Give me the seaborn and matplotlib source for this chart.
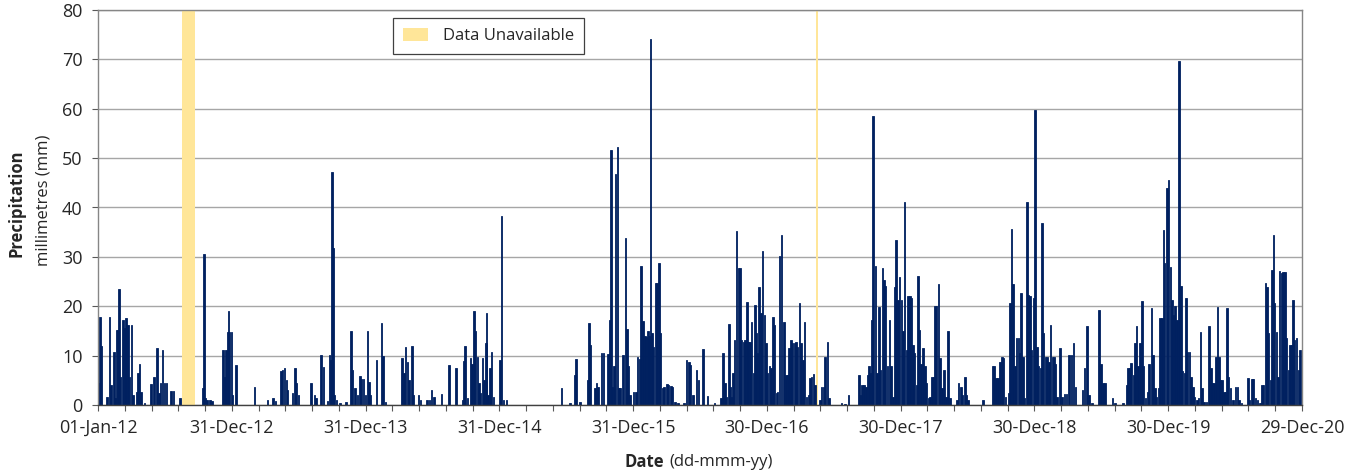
import numpy as np
import pandas as pd
import matplotlib
matplotlib.use("Agg")
import matplotlib.pyplot as plt
import seaborn as sns
from matplotlib.patches import Patch
from matplotlib.ticker import MultipleLocator

# ---------------- data (days since 01-Jan-12, daily precipitation in mm) ----------------
day = [3, 5, 9, 24, 32, 36, 43, 46, 51, 55, 58, 62, 68, 73, 77, 82, 86, 92, 96, 105, 109, 113, 118, 127,
       144, 153, 161, 166, 171, 176, 182, 187, 199, 206, 223,
       286, 289, 293, 298, 305, 311, 341, 346, 349, 354, 356, 359, 364, 367, 376,
       427, 462, 478, 484, 500, 504, 509, 514, 517, 531, 537, 542, 547, 581, 591, 595, 608, 615, 626,
       631, 635, 638, 641, 644, 651, 660, 677, 691, 695, 701, 708, 715, 719, 724, 730, 735, 740, 744,
       760, 774, 778, 784,
       830, 835, 839, 844, 849, 856, 860, 875, 880, 897, 904, 910, 917, 937, 957, 977, 995, 999, 1001,
       1008, 1016, 1021, 1026, 1030, 1035, 1040, 1043, 1049, 1053, 1058, 1060, 1064, 1069, 1074, 1079,
       1097, 1101, 1106, 1115,
       1265, 1288, 1301, 1304, 1315, 1336, 1340, 1344, 1356, 1360, 1364, 1374, 1379, 1392, 1395, 1399,
       1403, 1408, 1412, 1417, 1421, 1424, 1432, 1439, 1443, 1448, 1452, 1461, 1468, 1472, 1477, 1482,
       1487, 1492, 1496, 1500, 1503, 1507, 1512, 1516, 1521, 1525, 1530, 1534, 1540, 1544, 1552, 1557,
       1563, 1567, 1574, 1582, 1599, 1606, 1612, 1616, 1623, 1633, 1638,
       1650, 1663, 1682, 1700, 1705, 1710, 1715, 1721, 1724, 1729, 1733, 1737, 1742, 1747, 1752, 1756,
       1761, 1765, 1770, 1774, 1779, 1783, 1788, 1792, 1796, 1800, 1804, 1809, 1813, 1818, 1823, 1827,
       1832, 1836, 1842, 1846, 1851, 1854, 1859, 1865, 1872, 1877, 1882, 1886, 1891, 1895, 1900, 1904,
       1909, 1914, 1918, 1923, 1928, 1933, 1938, 1943, 1947, 1952, 1956, 1970, 1974, 1979, 1984, 1990,
       1995, 2029, 2038, 2048,
       2076, 2081, 2085, 2090, 2095, 2099, 2104, 2108, 2112, 2115, 2121, 2126, 2131, 2135, 2140, 2145,
       2149, 2154, 2159, 2164, 2169, 2175, 2178, 2183, 2187, 2192, 2196, 2201, 2206, 2210, 2215, 2219,
       2224, 2228, 2233, 2237, 2242, 2246, 2251, 2256, 2260, 2266, 2270, 2275, 2279, 2283, 2288, 2293,
       2297, 2303, 2308, 2314, 2319, 2325, 2343, 2348, 2354, 2357, 2365, 2370, 2374, 2414,
       2440, 2445, 2450, 2456, 2461, 2466, 2471, 2476, 2484, 2488, 2493, 2497, 2502, 2506, 2511, 2516,
       2519, 2524, 2528, 2534, 2538, 2543, 2547, 2552, 2557, 2562, 2566, 2571, 2576, 2580, 2585, 2589,
       2594, 2599, 2604, 2608, 2613, 2617, 2625, 2630, 2637, 2643, 2650, 2656, 2661, 2667, 2686, 2692,
       2698, 2704, 2712, 2731, 2737, 2742, 2747, 2768, 2775, 2797,
       2807, 2810, 2815, 2819, 2825, 2829, 2833, 2838, 2843, 2848, 2852, 2858, 2863, 2868,
       2875, 2879, 2884, 2888, 2893, 2898, 2903, 2907, 2910, 2916, 2921, 2926, 2930, 2935, 2939, 2944,
       2949, 2955, 2959, 2964, 2969, 2973, 2978, 2982, 2987, 2991, 2998, 3002, 3008, 3012, 3018, 3025,
       3031, 3036, 3040, 3045, 3050, 3054, 3059, 3062, 3067, 3072, 3076, 3080, 3085, 3090, 3097, 3103,
       3109, 3113, 3120, 3137, 3141, 3148, 3152, 3158, 3163, 3170, 3176, 3180, 3185, 3190, 3194, 3199,
       3203, 3207, 3210, 3215, 3220, 3224, 3229, 3233, 3238, 3242, 3248, 3252, 3257, 3261, 3265, 3270,
       3275, 3280]

rain_mm = [4.4, 17.9, 12.0, 1.7, 17.8, 4.0, 10.8, 1.5, 15.2, 15.2, 23.5, 5.7, 17.2, 15.5, 17.7, 16.2, 5.7, 16.2, 2.0, 2.7, 6.4, 8.4, 2.7, 0.5,
           4.3, 5.7, 11.5, 2.4, 4.4, 11.1, 4.4, 4.5, 2.9, 2.9, 1.5,
           3.4, 30.6, 1.4, 1.0, 1.0, 0.8, 11.1, 5.7, 11.1, 14.7, 19.1, 14.7, 14.7, 2.0, 8.1,
           3.7, 1.0, 1.4, 0.8, 6.8, 7.1, 7.4, 5.0, 3.0, 2.4, 7.4, 4.4, 2.0, 4.5, 2.0, 1.4, 10.1, 7.6, 0.8,
           10.1, 9.1, 47.1, 31.8, 2.0, 1.0, 0.5, 0.6, 14.9, 7.1, 3.4, 2.0, 5.9, 5.3, 5.3, 2.0, 14.9, 4.7, 2.0,
           9.1, 16.7, 9.9, 0.7,
           9.6, 6.4, 11.8, 8.8, 5.0, 12.0, 2.0, 2.0, 1.0, 1.1, 1.0, 3.0, 1.7, 2.2, 8.2, 7.4, 1.0, 9.0, 12.0,
           1.4, 9.5, 8.4, 19.1, 14.9, 9.8, 4.4, 2.4, 9.5, 5.0, 12.5, 18.6, 2.0, 7.4, 10.8, 1.7,
           9.1, 38.3, 1.0, 1.0,
           3.4, 0.5, 6.1, 9.3, 0.7, 5.0, 16.6, 12.2, 3.4, 4.5, 3.7, 10.5, 10.5, 10.3, 17.2, 51.6,
           3.7, 7.8, 46.8, 52.2, 3.4, 3.4, 10.1, 33.9, 15.3, 7.8, 2.0, 2.7, 2.7, 9.8, 9.3, 28.2,
           17.1, 13.9, 13.7, 14.9, 13.9, 74.1, 14.5, 11.8, 24.8, 24.8, 28.7, 14.5, 3.4, 3.7, 4.3, 4.0,
           3.9, 3.7, 0.7, 0.4, 0.4, 9.1, 8.8, 8.1, 2.0, 7.0, 5.0,
           11.3, 1.8, 0.5, 1.4, 10.5, 4.4, 1.7, 16.4, 3.7, 1.7, 6.4, 13.2, 35.3, 27.7, 27.7, 13.2,
           12.8, 13.2, 20.8, 12.8, 12.8, 16.9, 6.4, 20.3, 14.5, 10.5, 23.9, 18.6, 31.2, 18.2, 12.5, 6.4,
           7.8, 7.4, 17.8, 16.2, 2.4, 2.7, 30.1, 34.5, 16.9, 6.1, 6.1, 11.5, 13.2, 12.5, 12.5, 12.8,
           11.8, 20.6, 12.5, 9.1, 16.9, 1.7, 2.0, 5.4, 5.7, 6.3, 4.0, 1.0, 3.7, 3.7, 9.8, 12.8,
           1.4, 0.4, 0.2, 2.0,
           6.1, 2.0, 4.0, 4.0, 3.7, 6.1, 7.8, 6.4, 17.2, 58.6, 28.2, 6.4, 19.8, 7.1, 27.8, 25.3,
           24.1, 7.8, 17.2, 7.8, 1.7, 24.0, 33.4, 21.3, 25.9, 21.3, 14.9, 41.1, 11.1, 22.0, 22.0, 21.6,
           12.2, 10.5, 4.0, 26.1, 15.2, 8.4, 11.6, 7.8, 4.4, 1.4, 1.7, 5.7, 5.7, 20.1, 20.1, 24.5,
           9.5, 3.4, 7.0, 1.7, 15.0, 1.4, 1.0, 4.5, 3.7, 2.0, 5.7, 2.0, 1.0, 1.0,
           7.9, 7.9, 5.4, 5.4, 8.8, 9.7, 9.5, 1.7, 2.4, 20.7, 35.6, 24.5, 7.8, 13.5, 13.5, 10.5,
           22.6, 9.8, 1.4, 41.2, 22.3, 22.1, 11.1, 21.6, 59.8, 11.8, 7.8, 7.4, 36.8, 14.5, 9.8, 9.8,
           8.8, 16.2, 9.8, 9.8, 8.4, 1.7, 11.6, 1.7, 2.2, 2.2, 10.1, 10.1, 12.6, 3.7, 3.0, 7.4,
           15.9, 2.0, 0.5, 19.3, 8.4, 4.4, 4.4, 1.5, 0.4, 0.4,
           4.0, 7.4, 7.4, 8.6, 6.1, 12.5, 16.0, 7.8, 12.5, 21.1, 7.8, 1.4, 2.7, 8.4,
           19.6, 10.1, 3.4, 1.7, 3.4, 17.6, 17.6, 35.5, 28.7, 43.9, 45.6, 28.0, 21.3, 18.2, 20.1, 17.2,
           69.7, 24.1, 6.8, 6.4, 21.6, 10.8, 10.8, 5.7, 3.7, 1.7, 1.0, 1.4, 14.7, 3.4, 0.7, 0.7,
           16.0, 7.4, 4.4, 4.4, 9.8, 19.8, 9.8, 5.0, 5.0, 2.7, 2.7, 19.6, 5.7, 3.4, 1.0, 3.7,
           3.7, 1.0, 0.4, 5.5, 1.0, 5.3, 5.3, 1.4, 1.0, 0.4, 4.0, 4.0, 24.8, 24.0, 14.5, 5.0,
           27.4, 34.5, 20.6, 14.7, 5.7, 27.2, 26.7, 27.0, 27.0, 13.5, 7.1, 12.2, 12.2, 21.3, 13.2, 13.5,
           7.1, 11.1]

gap_start = [230, 1958]   # data unavailable periods (days since 01-Jan-12)
gap_end = [266, 1964]

tick_days = [0, 365, 730, 1095, 1460, 1825, 2190, 2555, 2920, 3285]
tick_labels = ["01-Jan-12", "31-Dec-12", "31-Dec-13", "31-Dec-14", "31-Dec-15",
               "30-Dec-16", "30-Dec-17", "30-Dec-18", "30-Dec-19", "29-Dec-20"]
y_ticks = [0, 10, 20, 30, 40, 50, 60, 70, 80]

# ---------------- style ----------------
sns.set_theme(style="white")
plt.rcParams['font.family'] = ['Open Sans', 'DejaVu Sans']
navy = "#002060"
gap_color = "#FFE699"
text_color = "#262626"

W, H = 1364, 473
fig = plt.figure(figsize=(W / 100, H / 100), dpi=100)
ax = fig.add_axes([98 / W, 68 / H, 1204 / W, 395 / H])

for s, e in zip(gap_start, gap_end):
    ax.axvspan(s, e, color=gap_color, lw=0, zorder=1)

df = pd.DataFrame({"day": day, "rain_mm": rain_mm})
min_gap = np.min(np.diff(np.unique(df["day"])))
sns.barplot(data=df, x="day", y="rain_mm", native_scale=True, color=navy, saturation=1,
            errorbar=None, width=4.2 / min_gap, edgecolor=navy, linewidth=0.6, ax=ax, zorder=2)

ax.set_xlim(0, 3285)
ax.set_ylim(0, 80)
ax.set_xticks(tick_days, tick_labels)
ax.xaxis.set_minor_locator(MultipleLocator(73))
ax.set_yticks(y_ticks)
ax.set_xlabel("")
ax.set_ylabel("")

ax.yaxis.grid(True, color="#A6A6A6", lw=1.0)
ax.xaxis.grid(False)
ax.set_axisbelow(True)
for sp in ax.spines.values():
    sp.set_visible(True)
    sp.set_color("#868686")
    sp.set_linewidth(1.0)
ax.spines["bottom"].set_color("#404040")

ax.tick_params(axis="x", which="both", direction="out", length=4, width=0.8, color="#595959",
               pad=6, labelsize=13, labelcolor=text_color, bottom=True)
ax.tick_params(axis="y", which="major", direction="out", length=4, width=0.8, color="#595959",
               pad=7, labelsize=13, labelcolor=text_color, left=True)

leg = ax.legend(handles=[Patch(facecolor=gap_color, edgecolor="none", label="Data Unavailable")],
                loc="upper left", bbox_to_anchor=((393 - 98) / 1204, (405 - 18) / 395),
                frameon=True, fancybox=False, edgecolor="#404040", framealpha=1, fontsize=12,
                handlelength=1.5, handleheight=0.8, borderpad=0.6, handletextpad=0.9,
                borderaxespad=0)
leg.get_frame().set_linewidth(0.9)
for t in leg.get_texts():
    t.set_color(text_color)

fig.text(17 / W, 1 - 203 / H, "Precipitation", rotation=90, fontweight="bold", fontsize=12,
         ha="center", va="center", color=text_color)
fig.text(44 / W, 1 - 200 / H, "millimetres (mm)", rotation=90, fontsize=12,
         ha="center", va="center", color=text_color)
fig.text(664 / W, 1 - 462 / H, "Date", fontweight="bold", fontsize=12, ha="right", va="center",
         color=text_color)
fig.text(669 / W, 1 - 462 / H, "(dd-mmm-yy)", fontsize=12, ha="left", va="center",
         color=text_color)

fig.savefig("out.png", dpi=100)
